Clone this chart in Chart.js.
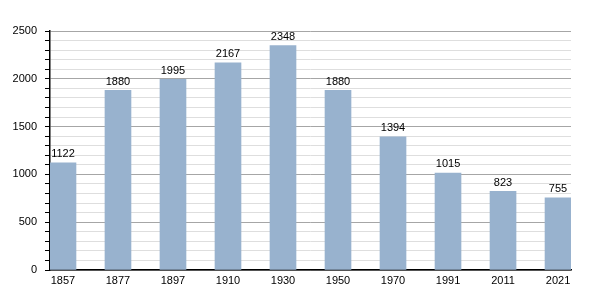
<!DOCTYPE html>
<html>
<head>
<meta charset="utf-8">
<script src="https://cdn.jsdelivr.net/npm/chart.js@4"></script>
<style>
  html, body { margin: 0; padding: 0; background: #fff; }
  #wrap { width: 600px; height: 300px; }
</style>
</head>
<body>
<div id="wrap"><canvas id="popChart"></canvas></div>
<script>
// ── Data ──
const years = ['1857', '1877', '1897', '1910', '1930', '1950', '1970', '1991', '2011', '2021'];
const population = [1122, 1880, 1995, 2167, 2348, 1880, 1394, 1015, 823, 755];
const yTicks = [0, 500, 1000, 1500, 2000, 2500];

const font = { family: "'Liberation Sans', Arial, sans-serif", size: 11 };

// Draws the value above each bar
const barLabels = {
  id: 'barLabels',
  afterDatasetsDraw(chart) {
    const ctx = chart.ctx;
    ctx.save();
    ctx.font = font.size + 'px ' + font.family;
    ctx.fillStyle = '#000';
    ctx.textAlign = 'center';
    ctx.textBaseline = 'alphabetic';
    chart.getDatasetMeta(0).data.forEach((bar, i) => {
      ctx.fillText(population[i], bar.x, bar.y - 5.5);
    });
    ctx.restore();
  }
};

new Chart(document.getElementById('popChart'), {
  type: 'bar',
  data: {
    datasets: [{
      data: population.map((v, i) => ({ x: i, y: v })),
      backgroundColor: '#98b2ce',
      borderWidth: 0,
      barThickness: 26
    }]
  },
  plugins: [barLabels],
  options: {
    responsive: true,
    maintainAspectRatio: false,
    animation: false,
    layout: { padding: { top: 31, right: 29, left: 0, bottom: 0 } },
    plugins: { legend: { display: false }, tooltip: { enabled: false } },
    scales: {
      x: {
        type: 'linear',
        offset: false,
        min: -0.236,
        max: 9.236,
        afterBuildTicks: s => { s.ticks = years.map((_, i) => ({ value: i })); },
        afterFit: s => { s.height = 30; },
        grid: { display: false, drawTicks: false, offset: false },
        border: { color: '#000', width: 1.5 },
        ticks: {
          color: '#000', font, padding: 4, maxRotation: 0, autoSkip: false,
          callback: v => years[v]
        }
      },
      y: {
        min: 0,
        max: 2500,
        afterFit: s => { s.width = 50; },
        ticks: {
          stepSize: 100, color: '#000', font, padding: 8, autoSkip: false,
          callback: v => (yTicks.includes(v) ? v : '')
        },
        grid: {
          color: c => (c.tick && c.tick.value % 500 === 0 ? '#a6a6a6' : '#dedede'),
          tickColor: '#000',
          tickLength: 5,
          lineWidth: 1
        },
        border: { color: '#000', width: 1.5 }
      }
    }
  }
});
</script>
</body>
</html>
